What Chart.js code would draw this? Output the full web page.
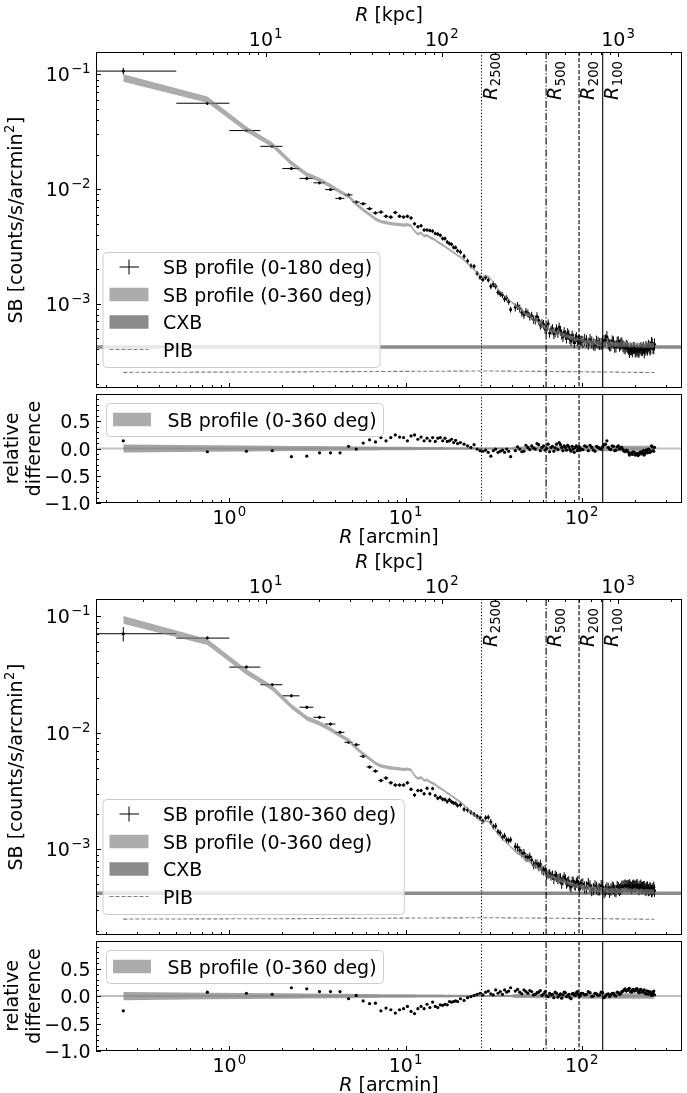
<!DOCTYPE html>
<html>
<head>
<meta charset="utf-8">
<title>SB profiles</title>
<script src="https://cdn.jsdelivr.net/npm/chart.js@4.4.1/dist/chart.umd.min.js"></script>
<style>
  html, body { margin: 0; padding: 0; background: #ffffff; }
  body { width: 687px; height: 1093px; position: relative; overflow: hidden; }
  canvas { position: absolute; left: 0; }
</style>
</head>
<body>
<canvas id="mainNorth" width="687" height="392" style="top:0px"></canvas>
<canvas id="resNorth" width="687" height="160" style="top:390px"></canvas>
<canvas id="mainSouth" width="687" height="390" style="top:550px"></canvas>
<canvas id="resSouth" width="687" height="156" style="top:937px"></canvas>
<script>
const FONT = '"DejaVu Sans", sans-serif';
const FS = 19;

// radial bins [arcmin]
const rBin = [
  // inner 0.5' bins
  0.25, 0.75, 1.25, 1.75, 2.25, 2.75, 3.25, 3.75, 4.25, 4.75,
  5.25, 5.75, 6.25, 6.75, 7.25, 7.75, 8.25, 8.75, 9.25, 9.75,
  10.25, 10.75, 11.25, 11.75, 12.25, 12.75, 13.25, 13.75, 14.25, 14.75,
  15.25, 15.75, 16.25, 16.75, 17.25, 17.75, 18.25, 18.75, 19.25, 19.75,
  // 20-40'
  20.5, 21.5, 22.5, 23.5, 24.5, 25.5, 26.5, 27.5, 28.5, 29.5,
  30.5, 31.5, 32.5, 33.5, 34.5, 35.5, 36.5, 37.5, 38.5, 39.5,
  // 40-100'
  42, 43.25, 44.5, 45.75, 47, 48.25, 49.5, 50.75, 52, 53.25,
  54.5, 55.75, 57, 58.25, 59.5, 60.75, 62, 63.25, 64.5, 65.75,
  67, 68.25, 69.5, 70.75, 72, 73.25, 74.5, 75.75, 77, 78.25,
  79.5, 80.75, 82, 83.25, 84.5, 85.75, 87, 88.25, 89.5, 90.75,
  92, 93.25, 94.5, 95.75, 97, 98.25, 99.5,
  // 100-260'
  101.5, 104, 106.5, 109, 111.5, 114, 116.5, 119, 121.5, 124,
  126.5, 129, 131.5, 134, 136.5, 139, 141.5, 144, 146.5, 149,
  151.5, 154, 156.5, 159, 161.5, 164, 166.5, 169, 171.5, 174,
  176.5, 179, 181.5, 184, 186.5, 189, 191.5, 194, 196.5, 199,
  201.5, 204, 206.5, 209, 211.5, 214, 216.5, 219, 221.5, 224,
  226.5, 229, 231.5, 234, 236.5, 239, 241.5, 244, 246.5, 249,
  251.5, 254, 256.5, 259
];
const binHalfWidth = 0.25;
const sbUnit = 1e-3; // SB values below are in 1e-3 counts/s/arcmin^2

// SB profile (0-360 deg)
const modelSB = [
  93.5, 60.4, 33.3, 24.4, 16.9, 13.4, 12.05, 10.7, 9.5, 8.65,
  7.4, 6.6, 6.0, 5.5, 5.2, 5.1, 5.0, 4.95, 4.9, 4.85,
  4.9, 4.8, 4.3, 4.05, 4.15, 3.9, 3.95, 3.8, 3.7, 3.6,
  3.45, 3.35, 3.25, 3.15, 3.05, 2.97, 2.88, 2.8, 2.72, 2.64,
  2.55, 2.4, 2.25, 2.1, 1.98, 1.86, 1.77, 1.72, 1.75, 1.73,
  1.65, 1.54, 1.43, 1.35, 1.28, 1.23, 1.18, 1.13, 1.09, 1.05,
  0.97, 0.93, 0.92, 0.89, 0.84, 0.80, 0.81, 0.79, 0.75, 0.72,
  0.73, 0.71, 0.67, 0.68, 0.66, 0.63, 0.62, 0.60, 0.62, 0.59,
  0.58, 0.585, 0.575, 0.56, 0.555, 0.57, 0.56, 0.545, 0.53, 0.535,
  0.54, 0.525, 0.515, 0.525, 0.52, 0.505, 0.50, 0.51, 0.505, 0.49,
  0.485, 0.49, 0.495, 0.48, 0.475, 0.488, 0.485,
  0.478, 0.465, 0.46, 0.47, 0.458, 0.455, 0.46, 0.462, 0.452, 0.45,
  0.448, 0.455, 0.449, 0.445, 0.447, 0.452, 0.443, 0.44, 0.446, 0.45,
  0.444, 0.442, 0.44, 0.448, 0.441, 0.438, 0.443, 0.446, 0.439, 0.44,
  0.436, 0.445, 0.44, 0.437, 0.434, 0.443, 0.438, 0.436, 0.44, 0.442,
  0.437, 0.435, 0.438, 0.44, 0.433, 0.434, 0.439, 0.44, 0.436, 0.433,
  0.431, 0.438, 0.434, 0.432, 0.436, 0.437, 0.43, 0.432, 0.435, 0.436,
  0.433, 0.431, 0.434, 0.435
];
const modelRelErr = [
  0.075, 0.061, 0.055, 0.051, 0.048, 0.046, 0.044, 0.042, 0.040, 0.039,
  0.038, 0.037, 0.036, 0.035, 0.034, 0.034, 0.033, 0.032, 0.032, 0.031,
  0.031, 0.030, 0.030, 0.029, 0.029, 0.028, 0.028, 0.028, 0.027, 0.027,
  0.026, 0.026, 0.026, 0.025, 0.025, 0.025, 0.024, 0.024, 0.024, 0.023,
  0.023, 0.022, 0.022, 0.021, 0.021, 0.020, 0.020, 0.019, 0.019, 0.019,
  0.018, 0.018, 0.018, 0.018, 0.017, 0.017, 0.017, 0.017, 0.017, 0.016,
  0.035, 0.035, 0.035, 0.035, 0.035, 0.035, 0.035, 0.035, 0.035, 0.035,
  0.04, 0.04, 0.04, 0.04, 0.04, 0.04, 0.04, 0.04, 0.04, 0.04,
  0.04, 0.04, 0.04, 0.04, 0.04, 0.04, 0.04, 0.04, 0.04, 0.04,
  0.04, 0.04, 0.04, 0.04, 0.04, 0.04, 0.04, 0.04, 0.04, 0.04,
  0.04, 0.04, 0.04, 0.04, 0.04, 0.04, 0.04,
  0.05, 0.05, 0.05, 0.05, 0.05, 0.05, 0.05, 0.05, 0.05, 0.05,
  0.05, 0.05, 0.05, 0.05, 0.05, 0.05, 0.05, 0.05, 0.05, 0.05,
  0.05, 0.05, 0.05, 0.05, 0.05, 0.05, 0.05, 0.05, 0.05, 0.05,
  0.05, 0.05, 0.05, 0.05, 0.05, 0.05, 0.05, 0.05, 0.05, 0.05,
  0.05, 0.05, 0.05, 0.05, 0.05, 0.05, 0.05, 0.05, 0.05, 0.05,
  0.05, 0.05, 0.05, 0.05, 0.05, 0.05, 0.05, 0.05, 0.05, 0.05,
  0.05, 0.05, 0.05, 0.05
];

// SB profile (0-180 deg)
const sbNorth = [
  107, 56.1, 32.4, 23.6, 15.1, 12.4, 11.35, 9.9, 8.3, 8.9,
  7.7, 7.45, 6.75, 6.2, 6.3, 5.8, 5.7, 6.25, 5.8, 5.7,
  5.8, 5.6, 4.98, 4.7, 4.8, 4.4, 4.4, 4.35, 4.3, 4.1,
  4.05, 3.95, 3.7, 3.7, 3.45, 3.35, 3.3, 3.1, 3.1, 2.9,
  2.83, 2.59, 2.36, 2.14, 2.12, 1.84, 1.70, 1.63, 1.70, 1.61,
  1.42, 1.48, 1.42, 1.26, 1.22, 1.19, 1.10, 1.12, 1.04, 0.89,
  0.93, 0.958, 0.911, 0.837, 0.80, 0.848, 0.826, 0.774, 0.788, 0.727,
  0.723, 0.774, 0.717, 0.653, 0.673, 0.662, 0.601, 0.60, 0.67, 0.555,
  0.592, 0.608, 0.546, 0.566, 0.60, 0.559, 0.622, 0.583, 0.541, 0.514,
  0.567, 0.536, 0.50, 0.557, 0.536, 0.495, 0.475, 0.53, 0.50, 0.456,
  0.495, 0.515, 0.475, 0.485, 0.489, 0.473, 0.48,
  0.468, 0.488, 0.474, 0.451, 0.485, 0.464, 0.446, 0.439, 0.47, 0.459,
  0.448, 0.45, 0.462, 0.476, 0.483, 0.515, 0.452, 0.436, 0.437, 0.473,
  0.462, 0.424, 0.427, 0.461, 0.463, 0.434, 0.447, 0.455, 0.43, 0.418,
  0.41, 0.432, 0.422, 0.406, 0.382, 0.403, 0.403, 0.388, 0.414, 0.411,
  0.385, 0.392, 0.399, 0.383, 0.385, 0.404, 0.413, 0.396, 0.401, 0.416,
  0.379, 0.399, 0.421, 0.41, 0.401, 0.433, 0.421, 0.402, 0.409, 0.458,
  0.446, 0.414, 0.412, 0.444
];
const sbNorthRelErr = [
  0.07, 0.035, 0.03, 0.03, 0.03, 0.03, 0.03, 0.03, 0.03, 0.03,
  0.03, 0.03, 0.03, 0.03, 0.035, 0.035, 0.035, 0.035, 0.035, 0.035,
  0.035, 0.035, 0.035, 0.035, 0.035, 0.035, 0.035, 0.035, 0.035, 0.035,
  0.04, 0.04, 0.04, 0.04, 0.04, 0.04, 0.04, 0.04, 0.04, 0.04,
  0.05, 0.05, 0.05, 0.05, 0.05, 0.05, 0.05, 0.05, 0.05, 0.05,
  0.06, 0.06, 0.06, 0.06, 0.06, 0.06, 0.06, 0.06, 0.06, 0.06,
  0.08, 0.08, 0.08, 0.08, 0.08, 0.08, 0.08, 0.08, 0.08, 0.08,
  0.09, 0.09, 0.09, 0.09, 0.09, 0.09, 0.09, 0.09, 0.09, 0.09,
  0.09, 0.09, 0.10, 0.10, 0.10, 0.10, 0.10, 0.10, 0.10, 0.10,
  0.10, 0.10, 0.10, 0.10, 0.10, 0.10, 0.10, 0.10, 0.10, 0.10,
  0.10, 0.10, 0.10, 0.10, 0.10, 0.10, 0.10,
  0.12, 0.12, 0.12, 0.12, 0.12, 0.12, 0.12, 0.12, 0.12, 0.12,
  0.12, 0.12, 0.12, 0.12, 0.12, 0.12, 0.12, 0.12, 0.12, 0.12,
  0.12, 0.12, 0.12, 0.12, 0.12, 0.12, 0.12, 0.12, 0.12, 0.12,
  0.12, 0.12, 0.12, 0.12, 0.12, 0.12, 0.12, 0.12, 0.12, 0.12,
  0.12, 0.12, 0.12, 0.12, 0.12, 0.12, 0.12, 0.12, 0.12, 0.12,
  0.12, 0.12, 0.12, 0.12, 0.12, 0.12, 0.12, 0.12, 0.12, 0.12,
  0.12, 0.12, 0.12, 0.12
];
const relDiffNorth = [
  0.14, -0.06, -0.05, -0.04, -0.15, -0.14, -0.08, -0.08, -0.08, 0.04,
  -0.01, 0.10, 0.16, 0.12, 0.20, 0.14, 0.20, 0.25, 0.21, 0.20,
  0.14, 0.23, 0.25, 0.17, 0.21, 0.14, 0.19, 0.14, 0.20, 0.13,
  0.19, 0.20, 0.14, 0.19, 0.13, 0.14, 0.17, 0.11, 0.15, 0.09,
  0.11, 0.08, 0.05, 0.02, 0.07, -0.01, -0.04, -0.05, -0.03, -0.07,
  -0.14, -0.04, -0.01, -0.07, -0.05, -0.03, -0.07, -0.01, -0.05, -0.15,
  -0.04, 0.03, -0.01, -0.06, -0.05, 0.06, 0.02, -0.02, 0.05, 0.01,
  -0.01, 0.09, 0.07, -0.04, 0.02, 0.05, -0.03, 0.00, 0.08, -0.06,
  0.02, 0.04, -0.05, 0.01, 0.08, -0.02, 0.11, 0.07, 0.02, -0.04,
  0.05, 0.02, -0.03, 0.06, 0.03, -0.02, -0.05, 0.04, -0.01, -0.07,
  0.02, 0.05, -0.04, 0.01, 0.03, -0.03, -0.01,
  -0.02, 0.05, 0.03, -0.04, 0.06, 0.02, -0.03, -0.05, 0.04, 0.02,
  0.00, -0.01, 0.03, 0.07, 0.08, 0.14, 0.02, -0.01, -0.02, 0.05,
  0.04, -0.04, -0.03, 0.03, 0.05, -0.01, 0.01, 0.02, -0.02, -0.05,
  -0.06, -0.03, -0.04, -0.07, -0.12, -0.09, -0.08, -0.11, -0.06, -0.07,
  -0.12, -0.10, -0.09, -0.13, -0.11, -0.07, -0.06, -0.10, -0.08, -0.04,
  -0.12, -0.09, -0.03, -0.05, -0.08, -0.01, -0.02, -0.07, -0.06, 0.05,
  0.03, -0.04, -0.05, 0.02
];

// SB profile (180-360 deg)
const sbSouth = [
  71, 65.1, 36.7, 25.9, 20.8, 16.6, 13.6, 11.9, 10.1, 8.3,
  7.9, 6.3, 5.1, 4.7, 3.9, 4.1, 3.73, 3.57, 3.57, 3.57,
  3.73, 3.28, 2.93, 3.2, 3.2, 3.0, 3.35, 3.0, 3.33, 2.9,
  2.75, 2.8, 2.69, 2.68, 2.57, 2.67, 2.56, 2.5, 2.48, 2.38,
  2.42, 2.21, 2.18, 2.08, 2.0, 1.92, 1.86, 1.75, 1.87, 1.89,
  1.72, 1.57, 1.59, 1.42, 1.38, 1.27, 1.31, 1.21, 1.19, 1.21,
  1.057, 1.042, 0.984, 0.926, 0.932, 0.864, 0.85, 0.869, 0.81, 0.734,
  0.752, 0.753, 0.717, 0.748, 0.667, 0.655, 0.67, 0.60, 0.614, 0.62,
  0.592, 0.603, 0.558, 0.599, 0.583, 0.559, 0.566, 0.567, 0.509, 0.546,
  0.578, 0.557, 0.51, 0.525, 0.536, 0.49, 0.475, 0.53, 0.53, 0.50,
  0.49, 0.519, 0.535, 0.494, 0.47, 0.493, 0.509,
  0.502, 0.474, 0.474, 0.508, 0.485, 0.45, 0.46, 0.485, 0.47, 0.455,
  0.457, 0.487, 0.476, 0.432, 0.447, 0.466, 0.461, 0.436, 0.455, 0.473,
  0.466, 0.446, 0.44, 0.479, 0.467, 0.451, 0.461, 0.482, 0.479, 0.488,
  0.493, 0.485, 0.484, 0.489, 0.495, 0.478, 0.469, 0.484, 0.493, 0.482,
  0.481, 0.492, 0.495, 0.475, 0.459, 0.482, 0.492, 0.471, 0.471, 0.476,
  0.478, 0.46, 0.451, 0.471, 0.475, 0.45, 0.452, 0.467, 0.461, 0.44,
  0.446, 0.461, 0.473, 0.444
];
const sbSouthRelErr = [
  0.14, 0.035, 0.03, 0.03, 0.03, 0.03, 0.03, 0.03, 0.03, 0.03,
  0.03, 0.03, 0.03, 0.03, 0.035, 0.035, 0.035, 0.035, 0.035, 0.035,
  0.035, 0.035, 0.035, 0.035, 0.035, 0.035, 0.035, 0.035, 0.035, 0.035,
  0.04, 0.04, 0.04, 0.04, 0.04, 0.04, 0.04, 0.04, 0.04, 0.04,
  0.05, 0.05, 0.05, 0.05, 0.05, 0.05, 0.05, 0.05, 0.05, 0.05,
  0.06, 0.06, 0.06, 0.06, 0.06, 0.06, 0.06, 0.06, 0.06, 0.06,
  0.08, 0.08, 0.08, 0.08, 0.08, 0.08, 0.08, 0.08, 0.08, 0.08,
  0.09, 0.09, 0.09, 0.09, 0.09, 0.09, 0.09, 0.09, 0.09, 0.09,
  0.09, 0.09, 0.10, 0.10, 0.10, 0.10, 0.10, 0.10, 0.10, 0.10,
  0.10, 0.10, 0.10, 0.10, 0.10, 0.10, 0.10, 0.10, 0.10, 0.10,
  0.10, 0.10, 0.10, 0.10, 0.10, 0.10, 0.10,
  0.12, 0.12, 0.12, 0.12, 0.12, 0.12, 0.12, 0.12, 0.12, 0.12,
  0.12, 0.12, 0.12, 0.12, 0.12, 0.12, 0.12, 0.12, 0.12, 0.12,
  0.12, 0.12, 0.12, 0.12, 0.12, 0.12, 0.12, 0.12, 0.12, 0.12,
  0.12, 0.12, 0.12, 0.12, 0.12, 0.12, 0.12, 0.12, 0.12, 0.12,
  0.12, 0.12, 0.12, 0.12, 0.12, 0.12, 0.12, 0.12, 0.12, 0.12,
  0.12, 0.12, 0.12, 0.12, 0.12, 0.12, 0.12, 0.12, 0.12, 0.12,
  0.12, 0.12, 0.12, 0.12
];
const relDiffSouth = [
  -0.27, 0.07, 0.05, 0.03, 0.15, 0.13, 0.08, 0.08, 0.08, -0.05,
  0.01, -0.09, -0.14, -0.13, -0.27, -0.22, -0.25, -0.31, -0.25, -0.23,
  -0.19, -0.28, -0.32, -0.23, -0.19, -0.23, -0.15, -0.21, -0.11, -0.19,
  -0.21, -0.16, -0.17, -0.15, -0.16, -0.10, -0.11, -0.10, -0.09, -0.10,
  -0.05, -0.08, -0.03, -0.01, 0.01, 0.03, 0.05, 0.02, 0.07, 0.09,
  0.04, 0.02, 0.11, 0.05, 0.08, 0.03, 0.11, 0.07, 0.09, 0.15,
  0.09, 0.12, 0.07, 0.04, 0.11, 0.08, 0.05, 0.10, 0.08, 0.02,
  0.03, 0.06, 0.07, 0.10, 0.01, 0.04, 0.08, 0.00, -0.01, 0.05,
  0.02, 0.03, -0.03, 0.07, 0.05, -0.02, 0.01, 0.04, -0.04, 0.02,
  0.07, 0.06, -0.01, 0.00, 0.03, -0.03, -0.05, 0.04, 0.05, 0.02,
  0.01, 0.06, 0.08, 0.03, -0.01, 0.01, 0.05,
  0.05, 0.02, 0.03, 0.08, 0.06, -0.01, 0.00, 0.05, 0.04, 0.01,
  0.02, 0.07, 0.06, -0.03, 0.00, 0.03, 0.04, -0.01, 0.02, 0.05,
  0.05, 0.01, 0.00, 0.07, 0.06, 0.03, 0.04, 0.08, 0.09, 0.11,
  0.13, 0.09, 0.10, 0.12, 0.14, 0.08, 0.07, 0.11, 0.12, 0.09,
  0.10, 0.13, 0.13, 0.08, 0.06, 0.11, 0.12, 0.07, 0.08, 0.10,
  0.11, 0.05, 0.04, 0.09, 0.09, 0.03, 0.05, 0.08, 0.06, 0.01,
  0.03, 0.07, 0.09, 0.02
];

// backgrounds
const cxbSB = 0.42;
const cxbRelErr = 0.035;
const pibR = [0.25, 2, 10, 30, 100, 259];
const pibSB = [0.252, 0.254, 0.257, 0.259, 0.255, 0.251];

// characteristic radii [arcmin]
const overLabels = ['2500', '500', '200', '100'];
const overR = [27.0, 62.8, 96.6, 131.6];
const overDash = [[1.2, 2], [7, 2, 1.2, 2], [4.2, 1.8], []];

// axes
const rRange = [0.175, 371];
const kpcPerArcmin = 6.22;
const xMajor = [1, 10, 100];
const kpcMajor = [10, 100, 1000];
const sbMajor = [1e-3, 1e-2, 1e-1];
const relMajor = [-1, -0.5, 0, 0.5];
const relLabels = ['\u22121.0', '\u22120.5', '0.0', '0.5'];

function logMinors(lo, hi) {
  const out = [];
  for (let e = Math.floor(Math.log10(lo)); e <= Math.ceil(Math.log10(hi)); e++) {
    for (let m = 2; m <= 9; m++) {
      const v = m * Math.pow(10, e);
      if (v > lo && v < hi) out.push(v);
    }
  }
  return out;
}

function line(ctx, x1, y1, x2, y2) {
  ctx.beginPath(); ctx.moveTo(x1, y1); ctx.lineTo(x2, y2); ctx.stroke();
}
const crisp = v => Math.round(v) + 0.5;

// "10^exp" tick label; y is the baseline of "10"
function drawPow10(ctx, exp, x, y, align) {
  const sup = exp < 0 ? '\u2212' + (-exp) : String(exp);
  ctx.font = FS + 'px ' + FONT;
  const wb = ctx.measureText('10').width;
  ctx.font = (FS * 0.7) + 'px ' + FONT;
  const ws = ctx.measureText(sup).width;
  const total = wb + 1 + ws;
  const x0 = align === 'right' ? x - total : x - total / 2;
  ctx.textAlign = 'left';
  ctx.textBaseline = 'alphabetic';
  ctx.font = FS + 'px ' + FONT;
  ctx.fillText('10', x0, y);
  ctx.font = (FS * 0.7) + 'px ' + FONT;
  ctx.fillText(sup, x0 + wb + 1, y - FS * 0.42);
}

function drawRLabel(ctx, unit, cx, y) {
  ctx.textAlign = 'left';
  ctx.textBaseline = 'alphabetic';
  ctx.font = 'italic ' + FS + 'px ' + FONT;
  const w1 = ctx.measureText('R').width;
  ctx.font = FS + 'px ' + FONT;
  const rest = ' [' + unit + ']';
  const w2 = ctx.measureText(rest).width;
  const x0 = cx - (w1 + w2) / 2;
  ctx.font = 'italic ' + FS + 'px ' + FONT;
  ctx.fillText('R', x0, y);
  ctx.font = FS + 'px ' + FONT;
  ctx.fillText(rest, x0 + w1, y);
}

function roundRect(ctx, x, y, w, h, r) {
  ctx.beginPath();
  ctx.moveTo(x + r, y);
  ctx.lineTo(x + w - r, y); ctx.arcTo(x + w, y, x + w, y + r, r);
  ctx.lineTo(x + w, y + h - r); ctx.arcTo(x + w, y + h, x + w - r, y + h, r);
  ctx.lineTo(x + r, y + h); ctx.arcTo(x, y + h, x, y + h - r, r);
  ctx.lineTo(x, y + r); ctx.arcTo(x, y, x + r, y, r);
  ctx.closePath();
}

function legendBox(ctx, left, top, height, texts) {
  ctx.font = FS + 'px ' + FONT;
  const tw = Math.max(...texts.map(t => ctx.measureText(t).width));
  roundRect(ctx, left + 0.5, top + 0.5, 61 + tw + 7, height, 4);
  ctx.fillStyle = 'rgba(255,255,255,0.8)';
  ctx.fill();
  ctx.strokeStyle = '#cccccc';
  ctx.lineWidth = 1;
  ctx.stroke();
}

const bandColor = 'rgba(128,128,128,0.65)';
const cxbColor = 'rgba(110,110,110,0.8)';

const errorBars = {
  id: 'errorBars',
  afterDatasetDraw(chart, args) {
    const ds = chart.data.datasets[args.index];
    if (!ds.yRelErr) return;
    const { ctx, chartArea: a, scales: { x, y } } = chart;
    ctx.save();
    ctx.beginPath(); ctx.rect(a.left, a.top, a.width, a.height); ctx.clip();
    ctx.strokeStyle = '#000'; ctx.lineWidth = 1;
    ds.data.forEach((p, i) => {
      const px = x.getPixelForValue(p.x), py = y.getPixelForValue(p.y);
      const xl = Math.max(p.x - binHalfWidth, x.min);
      const xr = p.x + binHalfWidth;
      const e = p.y * ds.yRelErr[i];
      ctx.beginPath();
      ctx.moveTo(x.getPixelForValue(xl), py); ctx.lineTo(x.getPixelForValue(xr), py);
      ctx.moveTo(px, y.getPixelForValue(p.y - e)); ctx.lineTo(px, y.getPixelForValue(p.y + e));
      ctx.stroke();
    });
    ctx.restore();
  }
};

function drawVLines(chart, withLabels) {
  const { ctx, chartArea: a, scales: { x } } = chart;
  ctx.save();
  ctx.strokeStyle = '#000';
  ctx.lineWidth = 1.1;
  overR.forEach((r, i) => {
    const px = x.getPixelForValue(r);
    ctx.setLineDash(overDash[i]);
    line(ctx, px, a.top, px, a.bottom);
    if (withLabels) {
      ctx.save();
      ctx.setLineDash([]);
      ctx.fillStyle = '#000';
      ctx.translate(px + 15, a.top + 48);
      ctx.rotate(-Math.PI / 2);
      ctx.textAlign = 'left';
      ctx.textBaseline = 'alphabetic';
      ctx.font = 'italic ' + FS + 'px ' + FONT;
      ctx.fillText('R', 0, 0);
      const w = ctx.measureText('R').width;
      ctx.font = (FS * 0.7) + 'px ' + FONT;
      ctx.fillText(overLabels[i], w + 0.5, FS * 0.2);
      ctx.restore();
    }
  });
  ctx.restore();
}

function drawXTicks(ctx, scale, a, majors, atTop) {
  const minors = logMinors(scale.min, scale.max);
  const y0 = atTop ? a.top : a.bottom;
  const s = atTop ? 1 : -1;
  majors.forEach(v => { const p = crisp(scale.getPixelForValue(v)); line(ctx, p, y0, p, y0 + s * 5); });
  minors.forEach(v => { const p = crisp(scale.getPixelForValue(v)); line(ctx, p, y0, p, y0 + s * 3); });
}

function drawFrame(ctx, a) {
  ctx.strokeStyle = '#000';
  ctx.lineWidth = 1;
  ctx.strokeRect(crisp(a.left), crisp(a.top), Math.round(a.right) - Math.round(a.left) - 1, Math.round(a.bottom) - Math.round(a.top) - 1);
}

function mainPanel(id, sb, sbErr, label, yMax, padTop, padBottom) {
  const model = (sign) => rBin.map((r, i) => ({ x: r, y: modelSB[i] * (1 + sign * modelRelErr[i]) * sbUnit }));
  const cxb = (sign) => rRange.map(r => ({ x: r, y: cxbSB * (1 + sign * cxbRelErr) * sbUnit }));
  const decor = {
    id: 'decor',
    afterDatasetsDraw(chart) { drawVLines(chart, true); },
    afterDraw(chart) {
      const { ctx, chartArea: a, scales } = chart;
      ctx.save();
      ctx.fillStyle = '#000';
      drawFrame(ctx, a);
      drawXTicks(ctx, scales.x, a, xMajor, false);
      drawXTicks(ctx, scales.x2, a, kpcMajor, true);
      // y ticks
      const ys = scales.y;
      sbMajor.forEach(v => { const p = crisp(ys.getPixelForValue(v)); line(ctx, a.left, p, a.left + 5, p); });
      logMinors(ys.min, ys.max).forEach(v => { const p = crisp(ys.getPixelForValue(v)); line(ctx, a.left, p, a.left + 3, p); });
      sbMajor.forEach(v => drawPow10(ctx, Math.round(Math.log10(v)), a.left - 5.5, ys.getPixelForValue(v) + 7, 'right'));
      kpcMajor.forEach(v => drawPow10(ctx, Math.round(Math.log10(v)), scales.x2.getPixelForValue(v), a.top - 6, 'center'));
      drawRLabel(ctx, 'kpc', (a.left + a.right) / 2, a.top - 31);
      // y label
      ctx.save();
      ctx.translate(22, (a.top + a.bottom) / 2);
      ctx.rotate(-Math.PI / 2);
      ctx.textAlign = 'left';
      ctx.textBaseline = 'alphabetic';
      const p1 = 'SB [counts/s/arcmin', p3 = ']';
      ctx.font = FS + 'px ' + FONT;
      const w1 = ctx.measureText(p1).width, w3 = ctx.measureText(p3).width;
      ctx.font = (FS * 0.7) + 'px ' + FONT;
      const w2 = ctx.measureText('2').width;
      let x0 = -(w1 + w2 + w3 + 1) / 2;
      ctx.font = FS + 'px ' + FONT;
      ctx.fillText(p1, x0, 0);
      ctx.font = (FS * 0.7) + 'px ' + FONT;
      ctx.fillText('2', x0 + w1 + 0.5, -FS * 0.42);
      ctx.font = FS + 'px ' + FONT;
      ctx.fillText(p3, x0 + w1 + w2 + 1, 0);
      ctx.restore();
      // legend
      const texts = [label, 'SB profile (0-360 deg)', 'CXB', 'PIB'];
      const left = a.left + 6.5, top = a.bottom - 136;
      legendBox(ctx, left, top, 115, texts);
      texts.forEach((t, i) => {
        const cy = top + 15 + i * 27.5;
        if (i === 0) {
          ctx.strokeStyle = '#000'; ctx.lineWidth = 1;
          line(ctx, left + 17, cy, left + 36.5, cy);
          line(ctx, left + 26.5, cy - 7.5, left + 26.5, cy + 7.5);
        } else if (i === 1 || i === 2) {
          ctx.fillStyle = i === 1 ? bandColor : cxbColor;
          ctx.fillRect(left + 7, cy - 6.75, 39, 13.5);
        } else {
          ctx.strokeStyle = '#7f7f7f'; ctx.lineWidth = 1.1;
          ctx.setLineDash([4, 2]);
          line(ctx, left + 7, cy, left + 46, cy);
          ctx.setLineDash([]);
        }
        ctx.fillStyle = '#000';
        ctx.font = FS + 'px ' + FONT;
        ctx.textAlign = 'left';
        ctx.textBaseline = 'alphabetic';
        ctx.fillText(t, left + 60.5, cy + 7);
      });
      ctx.restore();
    }
  };
  return new Chart(document.getElementById(id), {
    type: 'line',
    data: {
      datasets: [
        { data: model(-1), borderWidth: 0, borderColor: 'rgba(0,0,0,0)', pointRadius: 0, order: 0 },
        { data: model(1), borderWidth: 0, borderColor: 'rgba(0,0,0,0)', pointRadius: 0, fill: '-1', backgroundColor: bandColor, order: 0 },
        { data: rBin.map((r, i) => ({ x: r, y: sb[i] * sbUnit })), yRelErr: sbErr, showLine: false,
          pointRadius: 1.5, pointBackgroundColor: '#000', pointBorderWidth: 0, order: 1 },
        { data: pibR.map((r, i) => ({ x: r, y: pibSB[i] * sbUnit })), borderColor: '#7f7f7f', borderWidth: 1.1,
          borderDash: [4, 2], pointRadius: 0, order: 2 },
        { data: cxb(-1), borderWidth: 0, borderColor: 'rgba(0,0,0,0)', pointRadius: 0, order: 3 },
        { data: cxb(1), borderWidth: 0, borderColor: 'rgba(0,0,0,0)', pointRadius: 0, fill: '-1', backgroundColor: cxbColor, order: 3 }
      ]
    },
    options: {
      responsive: false, animation: false, devicePixelRatio: 1,
      layout: { padding: { left: 96, right: 5, top: padTop, bottom: padBottom } },
      scales: {
        x: { type: 'logarithmic', min: rRange[0], max: rRange[1], display: false },
        x2: { type: 'logarithmic', min: rRange[0] * kpcPerArcmin, max: rRange[1] * kpcPerArcmin, display: false, position: 'top' },
        y: { type: 'logarithmic', min: 1.84e-4, max: yMax, display: false }
      },
      plugins: { legend: { display: false }, tooltip: { enabled: false } },
      elements: { line: { tension: 0 } }
    },
    plugins: [errorBars, decor]
  });
}

function residualPanel(id, relDiff, padTop, padBottom) {
  const decor = {
    id: 'decor',
    afterDatasetsDraw(chart) { drawVLines(chart, false); },
    afterDraw(chart) {
      const { ctx, chartArea: a, scales } = chart;
      ctx.save();
      ctx.fillStyle = '#000';
      drawFrame(ctx, a);
      drawXTicks(ctx, scales.x, a, xMajor, false);
      const ys = scales.y;
      relMajor.forEach(v => { const p = crisp(ys.getPixelForValue(v)); line(ctx, a.left, p, a.left + 5, p); });
      for (let k = -9; k <= 9; k++) {
        if (k % 5 === 0) continue;
        const p = crisp(ys.getPixelForValue(k / 10));
        line(ctx, a.left, p, a.left + 3, p);
      }
      ctx.font = FS + 'px ' + FONT;
      ctx.textAlign = 'right';
      ctx.textBaseline = 'alphabetic';
      relMajor.forEach((v, i) => ctx.fillText(relLabels[i], a.left - 5.5, ys.getPixelForValue(v) + 7));
      xMajor.forEach(v => drawPow10(ctx, Math.round(Math.log10(v)), scales.x.getPixelForValue(v), a.bottom + 21, 'center'));
      drawRLabel(ctx, 'arcmin', (a.left + a.right) / 2, a.bottom + 39.5);
      // y label, two lines
      ctx.font = FS + 'px ' + FONT;
      ctx.textAlign = 'center';
      [['relative', 18], ['difference', 40]].forEach(([t, bx]) => {
        ctx.save();
        ctx.translate(bx, (a.top + a.bottom) / 2);
        ctx.rotate(-Math.PI / 2);
        ctx.fillText(t, 0, 0);
        ctx.restore();
      });
      // legend
      const left = a.left + 10, top = a.top + 9;
      const t = 'SB profile (0-360 deg)';
      legendBox(ctx, left, top, 33, [t]);
      ctx.fillStyle = bandColor;
      ctx.fillRect(left + 7, top + 16.5 - 6.75, 38, 13.5);
      ctx.fillStyle = '#000';
      ctx.textAlign = 'left';
      ctx.fillText(t, left + 61.5, top + 16.5 + 7);
      ctx.restore();
    }
  };
  return new Chart(document.getElementById(id), {
    type: 'line',
    data: {
      datasets: [
        { data: rBin.map((r, i) => ({ x: r, y: relDiff[i] })), showLine: false,
          pointRadius: 1.6, pointBackgroundColor: '#000', pointBorderWidth: 0, order: 0 },
        { data: rBin.map((r, i) => ({ x: r, y: -modelRelErr[i] })), borderWidth: 0, borderColor: 'rgba(0,0,0,0)', pointRadius: 0, order: 1 },
        { data: rBin.map((r, i) => ({ x: r, y: modelRelErr[i] })), borderWidth: 0, borderColor: 'rgba(0,0,0,0)', pointRadius: 0,
          fill: '-1', backgroundColor: 'rgba(128,128,128,0.72)', order: 1 },
        { data: rRange.map(r => ({ x: r, y: 0 })), borderColor: 'rgba(128,128,128,0.5)', borderWidth: 2, pointRadius: 0, order: 2 }
      ]
    },
    options: {
      responsive: false, animation: false, devicePixelRatio: 1,
      layout: { padding: { left: 96, right: 5, top: padTop, bottom: padBottom } },
      scales: {
        x: { type: 'logarithmic', min: rRange[0], max: rRange[1], display: false },
        y: { type: 'linear', min: -1, max: 1, display: false }
      },
      plugins: { legend: { display: false }, tooltip: { enabled: false } },
      elements: { line: { tension: 0 } }
    },
    plugins: [decor]
  });
}

mainPanel('mainNorth', sbNorth, sbNorthRelErr, 'SB profile (0-180 deg)', 0.157, 52, 4);
residualPanel('resNorth', relDiffNorth, 2, 47);
mainPanel('mainSouth', sbSouth, sbSouthRelErr, 'SB profile (180-360 deg)', 0.141, 49, 5);
residualPanel('resSouth', relDiffSouth, 2, 42);
</script>
</body>
</html>
